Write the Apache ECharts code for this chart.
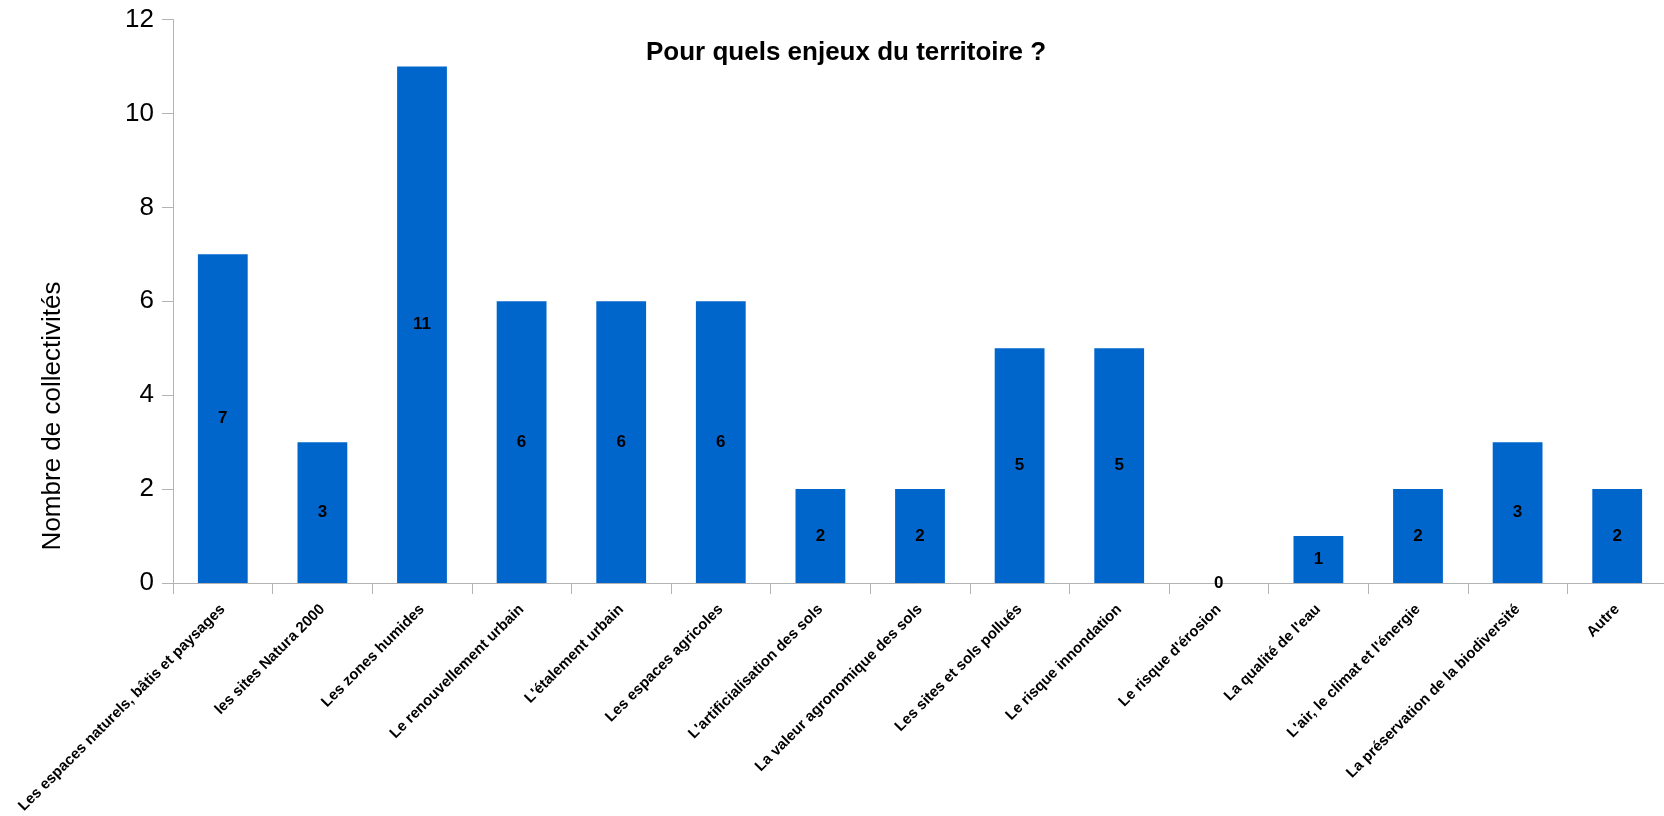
<!DOCTYPE html>
<html>
<head>
<meta charset="utf-8">
<title>Pour quels enjeux du territoire ?</title>
<script src="https://cdn.jsdelivr.net/npm/echarts@6/dist/echarts.min.js"></script>
<style>
  html, body { margin: 0; padding: 0; background: #fff; }
  #chart { width: 1664px; height: 816px; }
</style>
</head>
<body>
<div id="chart"></div>
<script>
// données
var categories = [
  "Les espaces naturels, bâtis et paysages",
  "les sites Natura 2000",
  "Les zones humides",
  "Le renouvellement urbain",
  "L'étalement urbain",
  "Les espaces agricoles",
  "L'artificialisation des sols",
  "La valeur agronomique des sols",
  "Les sites et sols pollués",
  "Le risque innondation",
  "Le risque d'érosion",
  "La qualité de l'eau",
  "L'air, le climat et l'énergie",
  "La préservation de la biodiversité",
  "Autre"
];
var counts = [7, 3, 11, 6, 6, 6, 2, 2, 5, 5, 0, 1, 2, 3, 2];
var yTicks = [0, 2, 4, 6, 8, 10, 12];

var font = "Liberation Sans, Arial, sans-serif";
var chart = echarts.init(document.getElementById("chart"));

var option = {
  animation: false,
  backgroundColor: "#ffffff",
  title: {
    text: "Pour quels enjeux du territoire ?",
    left: 646,
    top: 40,
    padding: 0,
    textStyle: { fontFamily: font, fontSize: 26, fontWeight: "bold", color: "#000" }
  },
  grid: {
    left: 173,
    top: 19.5,
    width: 1494,
    height: 563.5,
    containLabel: false,
    outerBoundsMode: "none"
  },
  graphic: [{
    // titre de l'axe vertical
    type: "text",
    x: 53,
    y: 416,
    rotation: Math.PI / 2,
    style: {
      text: "Nombre de collectivités",
      fontFamily: font,
      fontSize: 26,
      fill: "#000",
      textAlign: "center",
      textVerticalAlign: "middle"
    }
  }],
  xAxis: {
    type: "category",
    data: categories,
    axisLine: { lineStyle: { color: "#b3b3b3", width: 1 } },
    axisTick: { show: true, length: 11, lineStyle: { color: "#b3b3b3" } },
    axisLabel: {
      interval: 0,
      rotate: 45,
      margin: 24,
      fontFamily: font,
      fontSize: 15,
      fontWeight: "bold",
      color: "#000"
    }
  },
  yAxis: {
    type: "value",
    min: yTicks[0],
    max: yTicks[yTicks.length - 1],
    interval: 2,
    splitLine: { show: false },
    axisLine: { show: true, lineStyle: { color: "#b3b3b3", width: 1 } },
    axisTick: { show: true, length: 11, lineStyle: { color: "#b3b3b3" } },
    axisLabel: {
      margin: 19,
      fontFamily: font,
      fontSize: 26,
      color: "#000"
    }
  },
  series: [{
    type: "bar",
    data: counts,
    barWidth: "50%",
    itemStyle: { color: "#0066cc" },
    label: {
      show: true,
      position: "inside",
      fontFamily: font,
      fontSize: 17,
      fontWeight: "bold",
      color: "#000"
    }
  }]
};

chart.setOption(option);
</script>
</body>
</html>
